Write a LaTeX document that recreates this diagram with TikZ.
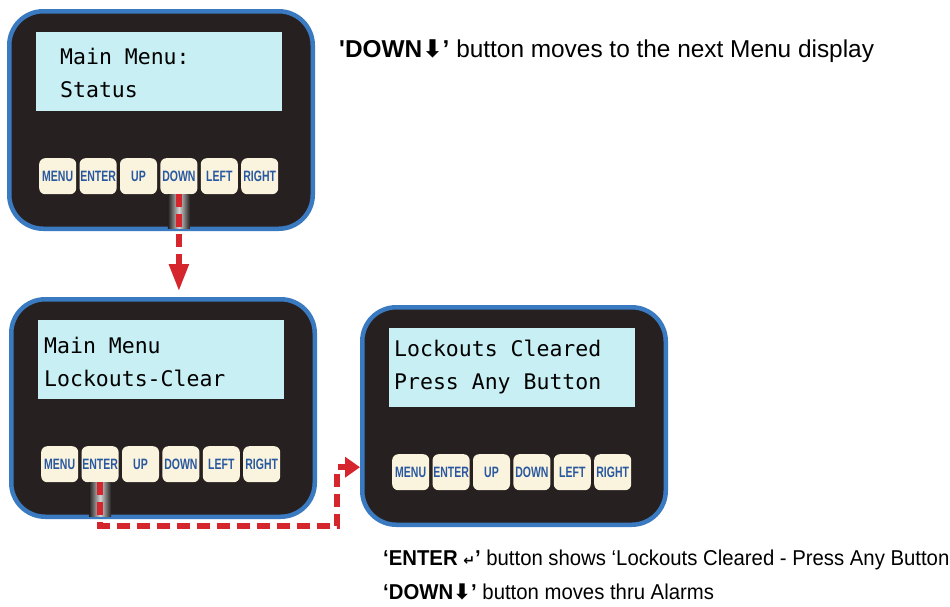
\documentclass[tikz,border=0pt]{standalone}
\usepackage{fontspec}
\usepackage{xcolor}
\usepackage{tikz}
\usetikzlibrary{arrows.meta,positioning,calc}
\newfontfamily\lcdfont{DejaVu Sans Mono}
\newfontfamily\keyfont[FakeStretch=0.7]{Liberation Sans Bold}
\newfontfamily\notefont{Liberation Sans}
\newfontfamily\narrowfont[FakeStretch=0.945]{Liberation Sans}
\newfontfamily\symfont{DejaVu Sans}
\definecolor{panelblue}{RGB}{58, 122, 192}
\definecolor{panelbg}{RGB}{38, 33, 32}
\definecolor{lcdcyan}{RGB}{200, 240, 244}
\definecolor{keycream}{RGB}{250, 243, 222}
\definecolor{keyblue}{RGB}{40, 88, 160}
\definecolor{flowred}{RGB}{213, 38, 45}

% one controller: name, origin, text offset, line 1, line 2
\newcommand{\lcdpanel}[5]{%
    \node[panelbox, anchor=north west] (#1) at (#2) {};
    \node[lcdbox, anchor=north west] (#1-lcd) at ($(#1.north west)+(29,23)$) {};
    \node[lcdtext, anchor=base west] (#1-top) at ($(#1-lcd.north west)+(#3)$) {#4};
    \node[lcdtext, anchor=base west] (#1-bot) at ($(#1-top.base west)+(0,33)$) {#5};
    \foreach \lbl [count=\i from 0] in {MENU,ENTER,UP,DOWN,LEFT,RIGHT}
        \node[keybox, anchor=north west] (#1-\lbl) at ($(#1.north west)+(32+40.4*\i,149)$) {\lbl};
}

\begin{document}
\begin{tikzpicture}[
    x=1pt, y=-1pt,
    panelbox/.style={draw=panelblue, line width=4.5pt, fill=panelbg, rounded corners=34pt, minimum width=303.5pt, minimum height=217.5pt, inner sep=0pt},
    lcdbox/.style={fill=lcdcyan, minimum width=246pt, minimum height=79pt, inner sep=0pt},
    lcdtext/.style={font=\lcdfont\fontsize{21.5}{26}\selectfont, inner sep=0pt},
    keybox/.style={fill=keycream, rounded corners=6pt, minimum width=37pt, minimum height=36pt, inner sep=0pt, text=keyblue, font=\keyfont\fontsize{15}{16}\selectfont},
    keyglow/.style={left color=panelbg, right color=panelbg, middle color=gray!35},
    flowarrow/.style={draw=flowred, line width=5.5pt, dash pattern=on 13pt off 7pt},
    notetext/.style={font=\notefont, inner sep=0pt}
]
    \useasboundingbox (0,0) rectangle (950,606);

    % Three controller displays
    \lcdpanel{status}{7,9}{24,32}{Main Menu:}{Status}
    \lcdpanel{lockmenu}{9,297}{6,33}{Main Menu}{Lockouts-Clear}
    \lcdpanel{cleared}{360,305}{5,28}{Lockouts Cleared}{Press Any Button}

    % Pressed-key glow
    \shade[keyglow] ($(status-DOWN.south)+(-11,0)$) rectangle ($(status-DOWN.south |- status.south)+(11,-2.5)$);
    \shade[keyglow] ($(lockmenu-ENTER.south)+(-11,0)$) rectangle ($(lockmenu-ENTER.south |- lockmenu.south)+(11,-2.5)$);

    % Key press arrows
    \draw[flowarrow, -{Triangle[width=19pt,length=27pt]}, shorten >=6pt] (status-DOWN.south) -- (status-DOWN.south |- lockmenu.north);
    \coordinate (elbow) at (337,526);
    \draw[flowarrow, -{Triangle[width=20pt,length=15pt]}] (lockmenu-ENTER.south) |- (elbow) |- ($(cleared.west |- cleared-MENU)+(0,-5)$);

    % Notes
    \node[notetext, anchor=base west, font=\notefont\fontsize{24.4}{28}\selectfont] (downnote) at (339,57) {{\bfseries\textquotesingle DOWN{\symfont⬇}’} button moves to the next Menu display};
    \node[notetext, anchor=base west, font=\narrowfont\fontsize{21.5}{24}\selectfont] (enternote) at (383,565) {{\bfseries‘ENTER {\symfont\fontsize{14}{14}\selectfont↵}’} button shows ‘Lockouts Cleared - Press Any Button};
    \node[notetext, anchor=base west, font=\narrowfont\fontsize{21.5}{24}\selectfont] (alarmnote) at (383,599) {{\bfseries‘DOWN{\symfont⬇}’} button moves thru Alarms};
\end{tikzpicture}
\end{document}
